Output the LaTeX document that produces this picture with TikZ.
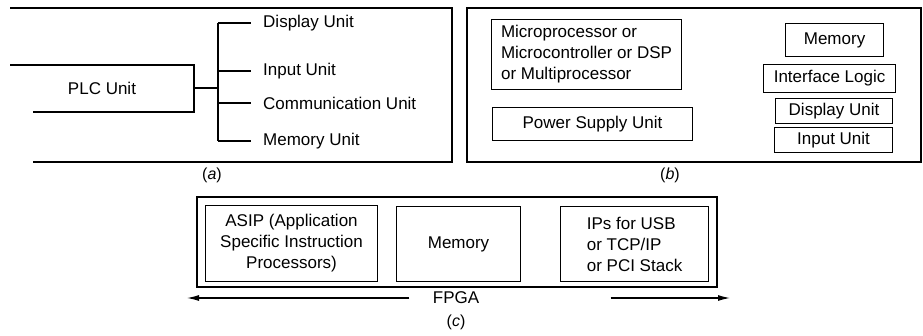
\documentclass[tikz,border=0pt]{standalone}
\usepackage{fontspec}
\setmainfont{Liberation Sans}
\usetikzlibrary{arrows.meta, positioning}

\begin{document}
\begin{tikzpicture}[x=1pt, y=-1pt,
  every node/.style={font=\fontsize{17}{21}\selectfont},
  box/.style={rectangle, draw, line width=1.1pt, inner sep=2pt, align=center,
              anchor=north west},
  frame/.style={draw, line width=1.1pt},
  link/.style={line width=1.1pt},
  unit/.style={anchor=west, inner sep=0pt},
  arrow/.style={-{Latex[length=12pt, width=6pt]}, line width=1.1pt},
  sublbl/.style={font=\fontsize{16}{20}\selectfont}
]
\useasboundingbox (0,0) rectangle (923,335);

% (a) PLC unit
\draw[frame] (10,8) -- (452,8) -- (452,162) -- (33,162);
\draw[frame] (10,65) -| (194,112) -- (33,112);
\node (plc) at (102,88) {PLC Unit};
\coordinate (plcout) at (194,88);
\coordinate (bus) at (218,88);
\node[unit] (disp) at (263,23) {Display Unit};
\node[unit] (inp) at (263,71) {Input Unit};
\node[unit] (comm) at (263,103) {Communication Unit};
\node[unit] (mem) at (263,141) {Memory Unit};
\draw[link] (plcout) -- (bus);
\draw[link] (bus |- disp) -- (bus |- mem);
\foreach \u in {disp, inp, comm, mem}
  \draw[link] (bus |- \u.west) -- ([xshift=-12pt]\u.west);
\node[sublbl] (capa) at (212,175) {(\textit{a})};

% (b) board
\draw[frame] (467,8) rectangle (921,162);
\node[box, align=left, minimum width=190, minimum height=70] (cpu) at (491,19)
  {Microprocessor or\\Microcontroller or DSP\\or Multiprocessor};
\node[box, minimum width=200, minimum height=33] (psu) at (492,107) {Power Supply Unit};
\node[box, minimum width=98, minimum height=33] (bmem) at (785,23) {Memory};
\node[box, minimum width=132, minimum height=28] (ifl) at (763,64) {Interface Logic};
\node[box, minimum width=117, minimum height=25] (bdisp) at (775,98) {Display Unit};
\node[box, minimum width=118, minimum height=25] (binp) at (774,127) {Input Unit};
\node[sublbl] (capb) at (670,175) {(\textit{b})};

% (c) FPGA
\draw[frame] (197,197) rectangle (717,287);
\node[box, minimum width=172, minimum height=76] (asip) at (205,205)
  {ASIP (Application\\Specific Instruction\\Processors)};
\node[box, minimum width=124, minimum height=75] (cmem) at (396,206) {Memory};
\node[box, align=left, minimum width=148, minimum height=75] (ips) at (560,206)
  {IPs for USB\\or TCP/IP\\or PCI Stack};
\node (fpga) at (456,298) {FPGA};
\coordinate (leftend) at (187,298);
\coordinate (rightend) at (730,298);
\draw[arrow] ([xshift=-20pt]fpga.west) -- (leftend);
\draw[arrow] ([xshift=128pt]fpga.east) -- (rightend);
\node[sublbl] (capc) at (456,322) {(\textit{c})};
\end{tikzpicture}
\end{document}
